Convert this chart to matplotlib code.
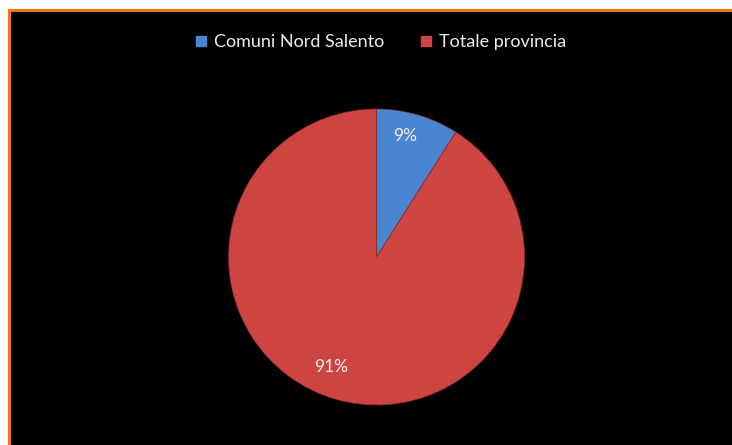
import matplotlib.pyplot as plt
from matplotlib.patches import Rectangle

categorie = ["Comuni Nord Salento", "Totale provincia"]
percentuali = [9, 91]
colori = ["#4A85D0", "#CD4541"]

fig = plt.figure(figsize=(7.32, 4.45), dpi=100)
fig.patch.set_facecolor("white")

# sfondo nero con bordo arancione (lati destro e inferiore fuori dall'immagine)
fig.patches.append(Rectangle((9 / 732, -0.05), 1.1, 1.05 - 10 / 445, transform=fig.transFigure,
                             facecolor="black", edgecolor="#F07A10", linewidth=2.2,
                             zorder=-1))

ax = fig.add_axes([0.3122, 0.0899, 0.4044, 0.6652])
wedges, texts, autotexts = ax.pie(
    percentuali, colors=colori, startangle=90, counterclock=False,
    autopct="%d%%", pctdistance=0.82,
    wedgeprops=dict(edgecolor="#8a2a2a", linewidth=0.5),
    textprops=dict(color="#F2EDEA", fontsize=12.5, family="Lato"),
)
# etichette spostate come nel grafico di Excel
autotexts[0].set_position((0.19, 0.82))
autotexts[1].set_position((-0.31, -0.74))
ax.set_aspect("equal")
ax.set_xlim(-1, 1)
ax.set_ylim(-1, 1)
ax.axis("off")

handles = [plt.Line2D([], [], marker="s", linestyle="", markersize=6.5,
                      markerfacecolor=c, markeredgecolor=c) for c in colori]
leg = fig.legend(handles, categorie, loc="center", bbox_to_anchor=(380 / 732, 1 - 42 / 445),
                 ncol=2, frameon=False, handletextpad=0.35, columnspacing=1.9,
                 handlelength=0.8, prop=dict(family="Lato", size=13))
for t in leg.get_texts():
    t.set_color("#EDEDED")

fig.savefig("out.png", dpi=100, facecolor=fig.get_facecolor())
